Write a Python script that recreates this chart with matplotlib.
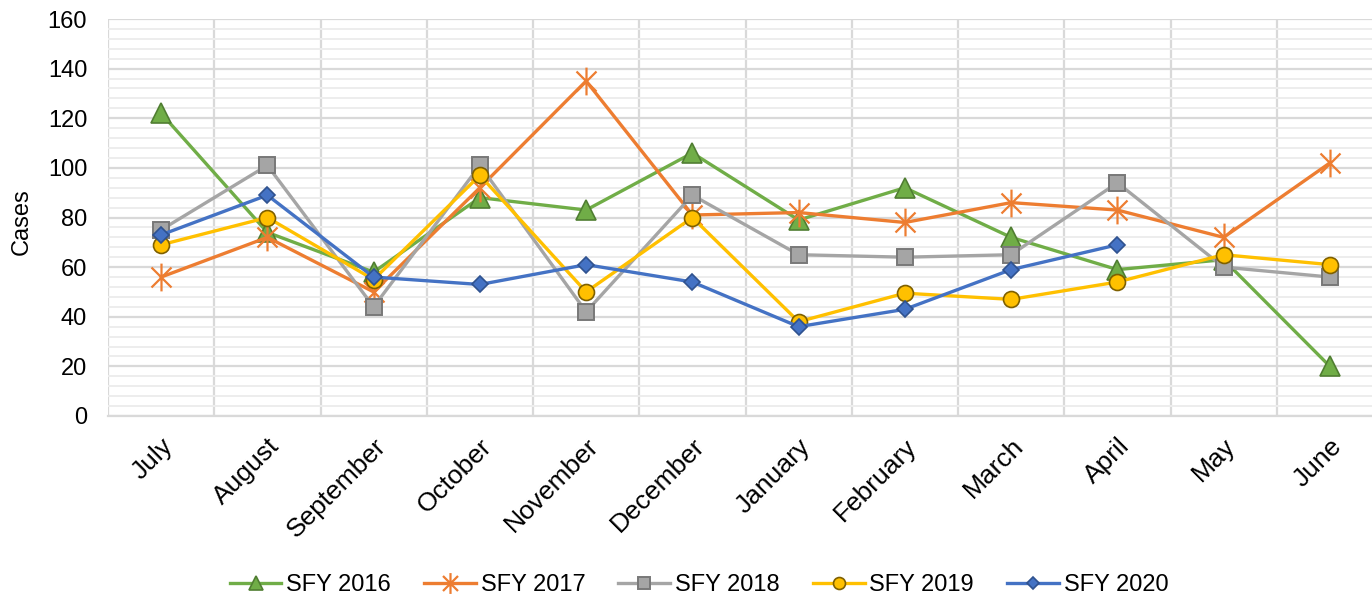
import matplotlib
matplotlib.use("Agg")
import matplotlib.pyplot as plt
from matplotlib.path import Path
from matplotlib.ticker import MultipleLocator, FixedLocator
from matplotlib.transforms import ScaledTranslation
import numpy as np

plt.rcParams['font.family'] = ['Liberation Sans', 'DejaVu Sans']

months = ["July", "August", "September", "October", "November", "December",
          "January", "February", "March", "April", "May", "June"]
sfy2016 = [122, 74, 58, 88, 83, 106, 79, 92, 72, 59, 63, 20]
sfy2017 = [56, 72, 50, 92, 135, 81, 82, 78, 86, 83, 72, 102]
sfy2018 = [75, 101, 44, 101, 42, 89, 65, 64, 65, 94, 60, 56]
sfy2019 = [69, 80, 55, 97, 50, 80, 38, 49.5, 47, 54, 65, 61]
sfy2020 = [73, 89, 56, 53, 61, 54, 36, 43, 59, 69, None, None]

series = [
    ("SFY 2016", sfy2016),
    ("SFY 2017", sfy2017),
    ("SFY 2018", sfy2018),
    ("SFY 2019", sfy2019),
    ("SFY 2020", sfy2020),
]

star = Path([(0, -1), (0, 1), (-0.72, -0.72), (0.72, 0.72), (-0.72, 0.72), (0.72, -0.72)],
            [Path.MOVETO, Path.LINETO, Path.MOVETO, Path.LINETO, Path.MOVETO, Path.LINETO])

styles = [
    dict(color='#70AD47', marker='^', markersize=14, markerfacecolor='#70AD47', markeredgecolor='#507E32', markeredgewidth=1.2),
    dict(color='#ED7D31', marker=star, markersize=20, markerfacecolor='none', markeredgecolor='#ED7D31', markeredgewidth=1.6),
    dict(color='#A5A5A5', marker='s', markersize=11.5, markerfacecolor='#A5A5A5', markeredgecolor='#787878', markeredgewidth=1.4),
    dict(color='#FFC000', marker='o', markersize=11.5, markerfacecolor='#FFC000', markeredgecolor='#7F6000', markeredgewidth=1.2),
    dict(color='#4472C4', marker='D', markersize=8.5, markerfacecolor='#4472C4', markeredgecolor='#2F528F', markeredgewidth=1.2),
]

FS = 17
FSX = 19

fig = plt.figure(figsize=(13.72, 6.0), dpi=100)
ax = fig.add_axes([108/1372, (600-416)/600, 1275/1372, (416-19)/600])

x = np.arange(len(months))
handles = []
for (name, vals), st in zip(series, styles):
    y = np.array([np.nan if v is None else v for v in vals], dtype=float)
    h, = ax.plot(x, y, linewidth=2.4, label=name, zorder=3, **st)
    handles.append(h)

ax.set_xlim(-0.5, len(months) - 0.5)
ax.set_ylim(0, 160)
ax.yaxis.set_major_locator(MultipleLocator(20))
ax.yaxis.set_minor_locator(MultipleLocator(4))
ax.set_xticks(x)
ax.set_xticklabels(months, rotation=45, ha='right', va='top', rotation_mode='anchor', fontsize=FSX)
shift = ScaledTranslation(-5/100, 0, fig.dpi_scale_trans)
for lbl in ax.get_xticklabels():
    lbl.set_transform(lbl.get_transform() + shift)
ax.xaxis.set_minor_locator(FixedLocator(np.arange(-0.5, len(months), 1.0)))
ax.tick_params(axis='both', which='both', length=0)
ax.tick_params(axis='x', pad=13)
ax.tick_params(axis='y', pad=15, labelsize=FS)

ax.yaxis.grid(True, which='minor', color='#EDEDED', linewidth=1.4, zorder=0)
ax.yaxis.grid(True, which='major', color='#D9D9D9', linewidth=1.6, zorder=1)
ax.xaxis.grid(True, which='minor', color='#D9D9D9', linewidth=1.6, zorder=1)
ax.xaxis.grid(False, which='major')
ax.set_axisbelow(True)
for s in ax.spines.values():
    s.set_visible(False)
ax.spines['bottom'].set_visible(True)
ax.spines['bottom'].set_color('#D9D9D9')
ax.spines['bottom'].set_linewidth(1.6)

ax.set_ylabel("Cases", fontsize=FS)
ax.yaxis.set_label_coords((33 - 108) / 1275, 0.49)

leg = fig.legend(handles=handles, loc='center', bbox_to_anchor=(699/1372, 1 - 585/600), ncol=5,
                 frameon=False, fontsize=FS, handlelength=2.2, handletextpad=0.2,
                 columnspacing=1.4, markerscale=0.75)

fig.savefig("out.png", dpi=100)
